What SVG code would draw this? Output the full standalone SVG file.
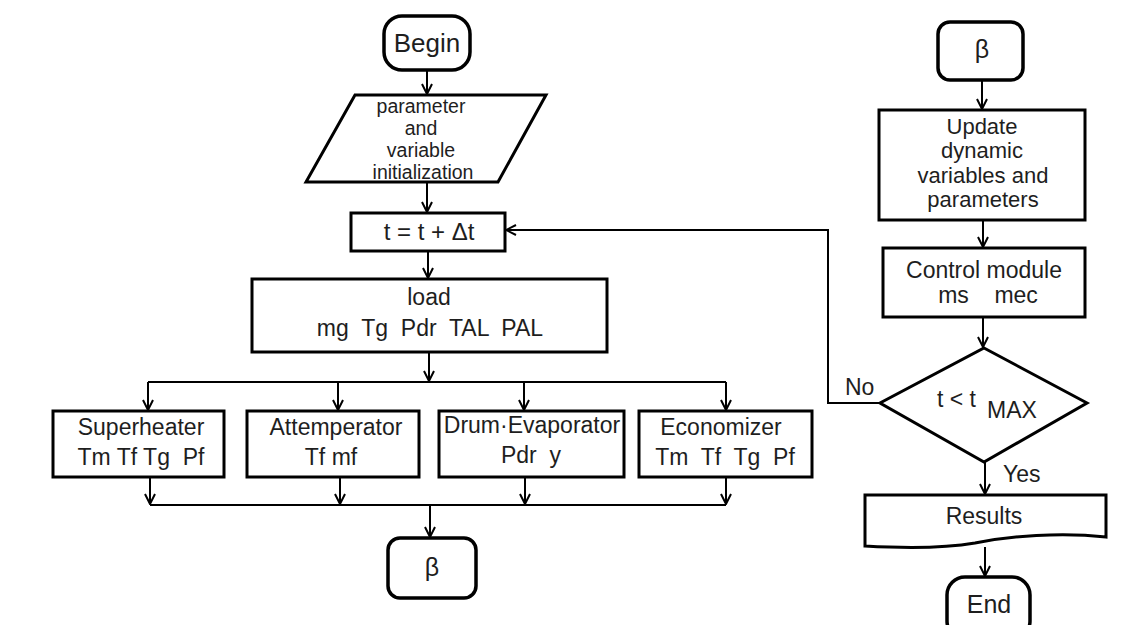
<svg xmlns="http://www.w3.org/2000/svg" width="1138" height="625" viewBox="0 0 1138 625">
<style>
  .box{fill:#fff;stroke:#000;stroke-width:3}
  .term{fill:#fff;stroke:#000;stroke-width:3.5}
  .con{fill:none;stroke:#000;stroke-width:2}
  text{font-family:"Liberation Sans",Arial,sans-serif;fill:#1e1e1e;font-size:23px;white-space:pre}
  .c{text-anchor:middle}
  .s19{font-size:19.5px}
  .s22{font-size:22px}
</style>
<defs>
  <marker id="arr" viewBox="0 0 12 12" refX="11" refY="6" markerWidth="12" markerHeight="12" markerUnits="userSpaceOnUse" orient="auto">
    <path d="M1,1 L11,6 L1,11" fill="none" stroke="#000" stroke-width="2"/>
  </marker>
</defs>

<g id="connectors">
  <line class="con" x1="427" y1="70" x2="427" y2="94" marker-end="url(#arr)"/>
  <line class="con" x1="427" y1="182" x2="427" y2="212" marker-end="url(#arr)"/>
  <line class="con" x1="428" y1="251" x2="428" y2="278" marker-end="url(#arr)"/>
  <line class="con" x1="429" y1="352" x2="429" y2="381" marker-end="url(#arr)"/>
  <polyline class="con" points="148,382 726,382"/>
  <line class="con" x1="148" y1="382" x2="148" y2="410" marker-end="url(#arr)"/>
  <line class="con" x1="338" y1="382" x2="338" y2="410" marker-end="url(#arr)"/>
  <line class="con" x1="524" y1="382" x2="524" y2="410" marker-end="url(#arr)"/>
  <line class="con" x1="726" y1="382" x2="726" y2="410" marker-end="url(#arr)"/>
  <line class="con" x1="150" y1="477" x2="150" y2="504" marker-end="url(#arr)"/>
  <line class="con" x1="340" y1="477" x2="340" y2="504" marker-end="url(#arr)"/>
  <line class="con" x1="525" y1="477" x2="525" y2="504" marker-end="url(#arr)"/>
  <line class="con" x1="726" y1="477" x2="726" y2="504" marker-end="url(#arr)"/>
  <polyline class="con" points="150,505 726,505"/>
  <line class="con" x1="430" y1="505" x2="430" y2="537" marker-end="url(#arr)"/>
  <polyline class="con" points="880,403 828,403 828,230 506,230" marker-end="url(#arr)"/>
  <line class="con" x1="982" y1="80" x2="982" y2="109" marker-end="url(#arr)"/>
  <line class="con" x1="983" y1="220" x2="983" y2="247" marker-end="url(#arr)"/>
  <line class="con" x1="983" y1="317" x2="983" y2="347" marker-end="url(#arr)"/>
  <line class="con" x1="985" y1="462" x2="985" y2="494" marker-end="url(#arr)"/>
  <line class="con" x1="985" y1="547" x2="985" y2="576" marker-end="url(#arr)"/>
  <text x="845" y="395">No</text>
  <text x="1003" y="482">Yes</text>
</g>

<g id="begin">
  <rect class="term" x="384" y="16" width="86" height="54" rx="18"/>
  <text class="c" x="427" y="52" style="font-size:26px">Begin</text>
</g>

<g id="init">
  <polygon class="box" points="355,95 546,95 498,182 306,182"/>
  <text class="c s19" x="421" y="113">parameter</text>
  <text class="c s19" x="421" y="135">and</text>
  <text class="c s19" x="421" y="157">variable</text>
  <text class="c s19" x="423" y="179">initialization</text>
</g>

<g id="time-step">
  <rect class="box" x="351" y="213" width="154" height="38"/>
  <text class="c" x="429" y="240" style="font-size:24px">t = t + Δt</text>
</g>

<g id="load">
  <rect class="box" x="252" y="279" width="355" height="73"/>
  <text class="c" x="429" y="305">load</text>
  <text class="c" x="430" y="336">mg  Tg  Pdr  TAL  PAL</text>
</g>

<g id="superheater">
  <rect class="box" x="53" y="411" width="171" height="66"/>
  <text class="c" x="141" y="435">Superheater</text>
  <text class="c" x="141" y="465">Tm Tf Tg  Pf</text>
</g>

<g id="attemperator">
  <rect class="box" x="247" y="411" width="172" height="66"/>
  <text class="c" x="336" y="435">Attemperator</text>
  <text class="c" x="331" y="465">Tf mf</text>
</g>

<g id="drum-evaporator">
  <rect class="box" x="439" y="411" width="185" height="66"/>
  <text class="c" x="532" y="433">Drum·Evaporator</text>
  <text class="c" x="531" y="463">Pdr  y</text>
</g>

<g id="economizer">
  <rect class="box" x="639" y="411" width="173" height="66"/>
  <text class="c" x="721" y="435">Economizer</text>
  <text class="c" x="725" y="465">Tm  Tf  Tg  Pf</text>
</g>

<g id="beta-out">
  <rect class="term" x="388" y="538" width="88" height="60" rx="12"/>
  <text class="c" x="432" y="576" style="font-size:25px">β</text>
</g>

<g id="beta-in">
  <rect class="term" x="938" y="22" width="85" height="58" rx="12"/>
  <text class="c" x="982" y="58" style="font-size:25px">β</text>
</g>

<g id="update">
  <rect class="box" x="879" y="110" width="206" height="110"/>
  <text class="c s22" x="982" y="134">Update</text>
  <text class="c s22" x="982" y="158">dynamic</text>
  <text class="c s22" x="983" y="183">variables and</text>
  <text class="c s22" x="983" y="207">parameters</text>
</g>

<g id="control">
  <rect class="box" x="883" y="248" width="202" height="69"/>
  <text class="c" x="984" y="278">Control module</text>
  <text class="c" x="988" y="303">ms    mec</text>
</g>

<g id="decision">
  <polygon class="box" points="984,348 1087,403 984,462 880,403"/>
  <text x="937" y="407">t &lt; t</text>
  <text x="987" y="418">MAX</text>
</g>

<g id="results">
  <path class="box" d="M865,495 H1106 V537 C1060,532 1010,536 975,543 C940,549 900,548 865,546 Z"/>
  <text class="c" x="984" y="524">Results</text>
</g>

<g id="end">
  <rect class="term" x="947" y="577" width="83" height="62" rx="18"/>
  <text class="c" x="989" y="613" style="font-size:25px">End</text>
</g>
</svg>
